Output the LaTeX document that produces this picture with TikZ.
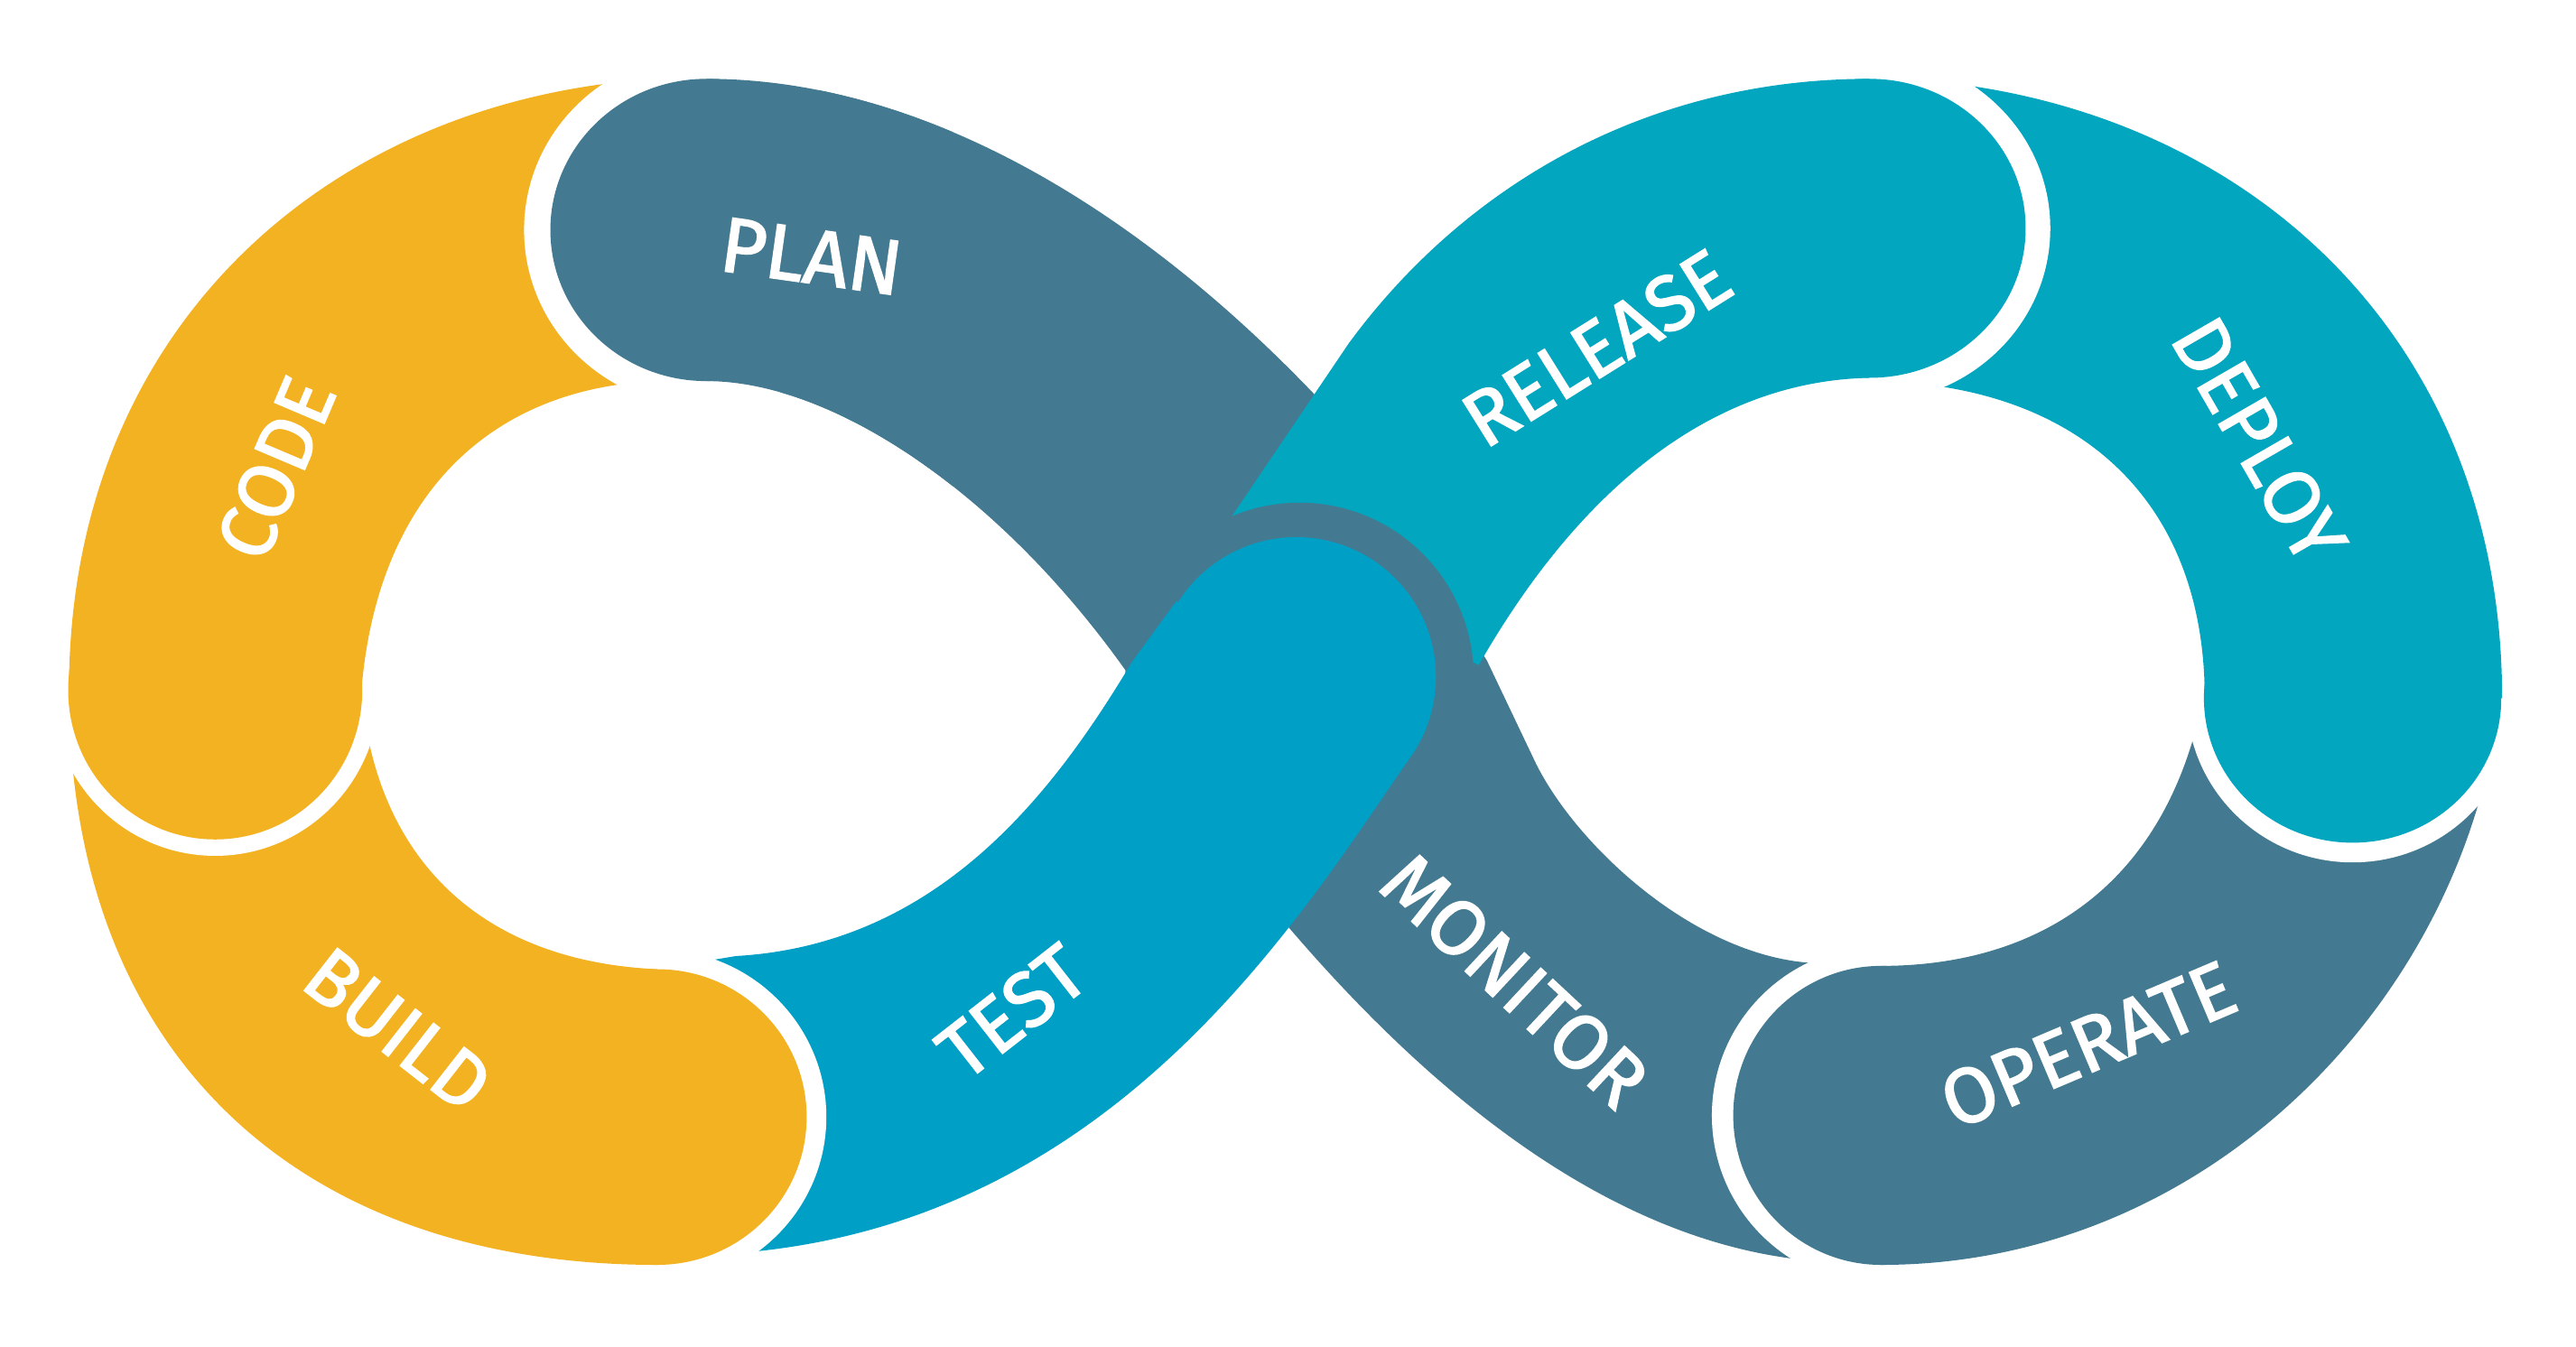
\documentclass[tikz,border=0pt]{standalone}
\usepackage{fontspec}
\newfontfamily\lblfont[FakeBold=2]{Fira Sans}
\definecolor{cyellow}{HTML}{F3B221}
\definecolor{cslate}{HTML}{437A91}
\definecolor{cteal}{HTML}{02A6BE}
\definecolor{ctest}{HTML}{00A0C6}
\begin{document}
\begin{tikzpicture}[x=0.02cm,y=0.02cm,
  lbl/.style={text=white,font=\lblfont\fontsize{27}{27}\selectfont,inner sep=0pt}]
\useasboundingbox (0,0) rectangle (1568,-820);
\fill[white] (0,0) rectangle (1568,-820);
\begin{scope}[y=-0.02cm]
% PLAN + MONITOR slate band
\fill[cslate] (430,48) .. controls (560,48) and (690,125) .. (800,240) -- (905,402) -- (935,465)
  .. controls (960,515) and (1030,580) .. (1100,586) -- (1150,590) -- (1150,770) -- (1110,768)
  .. controls (980,760) and (860,660) .. (760,535) -- (692,418)
  .. controls (615,305) and (510,232) .. (430,232) -- cycle;
\fill[cslate] (430,140) ellipse [x radius=95, y radius=92];
% OPERATE
\fill[white] (1145,679) ellipse [x radius=103, y radius=103];
\fill[cslate] (1145,588) .. controls (1240,588) and (1320,540) .. (1342,420) -- (1522,420)
  .. controls (1505,600) and (1350,770) .. (1145,770) -- cycle;
\fill[cslate] (1145,679) ellipse [x radius=90, y radius=91];
% DEPLOY
\fill[white] (1432,425) ellipse [x radius=101, y radius=100];
\fill[cteal] (1140,48) -- (1190,51) .. controls (1380,75) and (1523,215) .. (1523,425) -- (1342,425)
  .. controls (1342,300) and (1260,232) .. (1136,232) -- cycle;
\fill[cteal] (1432,425) ellipse [x radius=90.5, y radius=88];
% RELEASE
\fill[white] (1138,139) ellipse [x radius=110, y radius=106];
\fill[cteal] (748,317) -- (821,209) .. controls (890,115) and (1000,48) .. (1138,48) -- (1138,230)
  .. controls (1040,232) and (960,300) .. (900,405) -- cycle;
\fill[cteal] (1138,139) ellipse [x radius=95, y radius=91];
% ring behind TEST head
\fill[cslate] (791,412) circle [radius=106];
% TEST
\fill[ctest] (716,366) -- (689,403) .. controls (640,485) and (570,575) .. (448,582) -- (400,590)
  -- (400,770) -- (458,762) .. controls (680,740) and (790,560) .. (857,463) -- cycle;
\fill[ctest] (789,412) circle [radius=85];
% BUILD
\fill[white] (400,680) ellipse [x radius=103, y radius=102];
\fill[cyellow] (42,420) .. controls (42,640) and (180,770) .. (400,770) -- (400,590)
  .. controls (290,585) and (228,520) .. (220,420) -- cycle;
\fill[cyellow] (400,680) ellipse [x radius=91, y radius=90];
% CODE
\fill[white] (131,420) ellipse [x radius=100, y radius=101];
\fill[cyellow] (42,420) .. controls (42,200) and (200,60) .. (400,48) -- (400,232)
  .. controls (300,236) and (230,300) .. (220,420) -- cycle;
\fill[cyellow] (131,420) ellipse [x radius=89.5, y radius=91];
% PLAN head over CODE
\fill[white] (430,140) ellipse [x radius=111, y radius=108];
\begin{scope}
\clip (0,0) rectangle (580,300);
\fill[cslate] (430,48) .. controls (560,48) and (690,125) .. (800,240) -- (905,402) -- (935,465)
  .. controls (960,515) and (1030,580) .. (1100,586) -- (1150,590) -- (1150,770) -- (1110,768)
  .. controls (980,760) and (860,660) .. (760,535) -- (692,418)
  .. controls (615,305) and (510,232) .. (430,232) -- cycle;
\end{scope}
\fill[cslate] (430,140) ellipse [x radius=95, y radius=92];
\end{scope}
% labels (y up: coordinates are (x,-y) of the reference)
\node[lbl, rotate=-8] (plan) at (494,-156) {PLAN};
\node[lbl, rotate=67] (code) at (168,-285) {CODE};
\node[lbl, rotate=-38] (build) at (242,-627) {BUILD};
\node[lbl, rotate=38] (test) at (616,-616) {TEST};
\node[lbl, rotate=32] (release) at (972,-212) {RELEASE};
\node[lbl, rotate=-60] (deploy) at (1375,-268) {DEPLOY};
\node[lbl, rotate=23] (operate) at (1271,-636) {OPERATE};
\node[lbl, rotate=-43] (monitor) at (922,-597) {MONITOR};
\end{tikzpicture}
\end{document}
